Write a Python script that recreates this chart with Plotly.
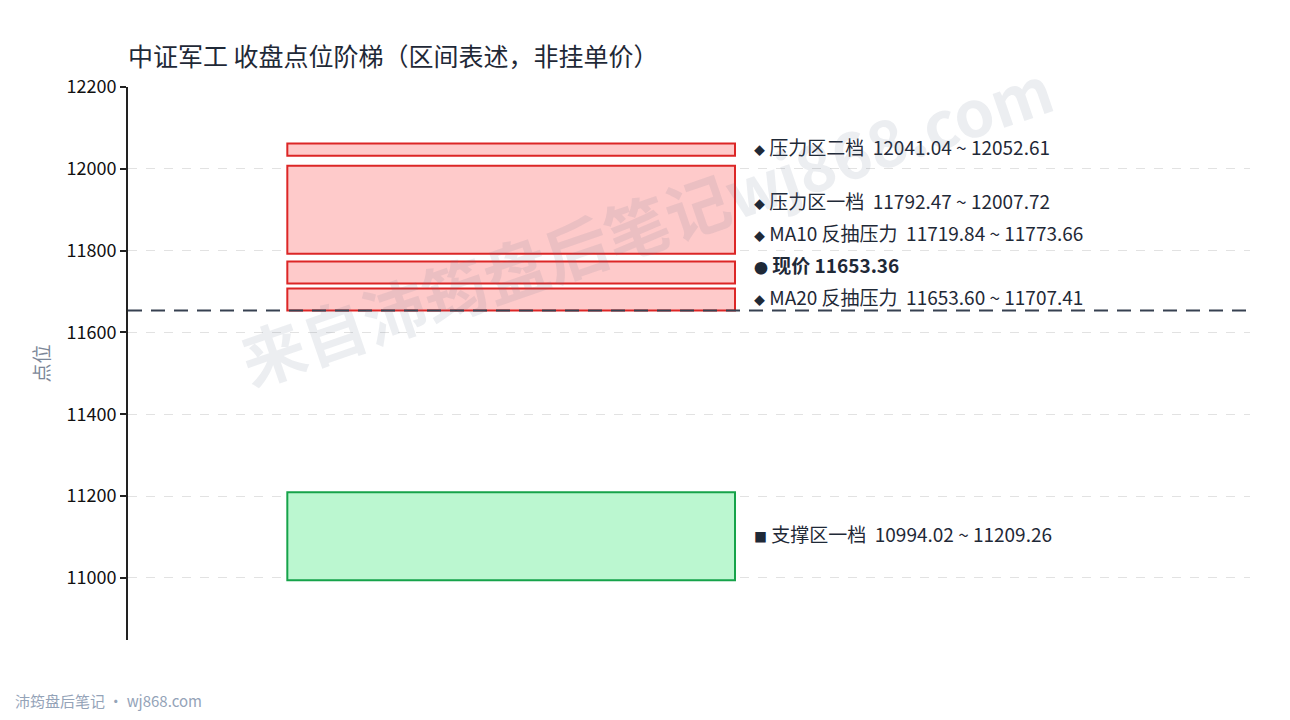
"""
中证军工 收盘点位阶梯（区间表述）
"""
import plotly.graph_objects as go

# 数据
zone_names = ["支撑区一档", "MA20 反抽压力", "MA10 反抽压力", "压力区一档", "压力区二档"]
zone_low = [10994.02, 11653.60, 11719.84, 11792.47, 12041.04]
zone_high = [11209.26, 11707.41, 11773.66, 12007.72, 12052.61]
zone_kind = ["support", "pressure", "pressure", "pressure", "pressure"]
current_price = 11653.36

y_ticks = [11000, 11200, 11400, 11600, 11800, 12000, 12200]
y_range = [10848, 12200]

# 画布参数（页面 body 自带 8px 边距，图形尺寸相应缩小）
PAGE_PAD = 8
W, H = 1290 - 2 * PAGE_PAD, 720 - 2 * PAGE_PAD
M_L, M_R, M_T, M_B = 128 - PAGE_PAD, 40 - PAGE_PAD, 87 - PAGE_PAD, 80 - PAGE_PAD
plot_h = H - M_T - M_B
plot_w = W - M_L - M_R
units_per_px = (y_range[1] - y_range[0]) / plot_h

FONT = "Noto Sans CJK SC, Noto Sans, sans-serif"
TEXT = "#1f2937"
colors = {
    "support": dict(fill="#bbf7d0", line="#16a34a"),
    "pressure": dict(fill="#fecaca", line="#dc2626"),
}

BOX_X0, BOX_X1 = 0.142, 0.541
LABEL_X = 0.556
MIN_BOX = 30  # 区间太窄时最小显示高度（点）
SP = "\u00a0\u00a0"

fig = go.Figure()
fig.add_trace(go.Scatter(x=[0, 1], y=y_range, mode="markers",
                         marker=dict(opacity=0), hoverinfo="skip", showlegend=False))

# 区间方框
for name, lo, hi, kind in zip(zone_names, zone_low, zone_high, zone_kind):
    mid = (lo + hi) / 2
    if hi - lo < MIN_BOX:
        lo, hi = mid - MIN_BOX / 2, mid + MIN_BOX / 2
    fig.add_shape(type="rect", xref="x", yref="y", x0=BOX_X0, x1=BOX_X1, y0=lo, y1=hi,
                  fillcolor=colors[kind]["fill"], line=dict(color=colors[kind]["line"], width=2),
                  layer="above")

# 现价虚线
fig.add_shape(type="line", xref="paper", yref="y", x0=0, x1=1,
              y0=current_price, y1=current_price,
              line=dict(color="#374151", width=2, dash="14px,9px"), layer="above")

# 标签（自下而上，避免重叠）
diamond = "<span style='font-size:11px'>◆</span> "
square = "<span style='font-size:13px'>■</span> "
labels = []
for name, lo, hi, kind in zip(zone_names, zone_low, zone_high, zone_kind):
    mark = square if kind == "support" else diamond
    labels.append(((lo + hi) / 2, f"{mark}{name}{SP}{lo:.2f} ~ {hi:.2f}"))
labels.insert(2, (current_price, f"<span style='font-size:14px'>●</span> <b>现价 {current_price:.2f}</b>"))

gap = 32 * units_per_px
prev = None
for y, text in labels:
    if prev is not None and y < prev + gap:
        y = prev + gap
    prev = y
    fig.add_annotation(x=LABEL_X, y=y, xref="x", yref="y", text=text, showarrow=False,
                       xanchor="left", yanchor="middle", yshift=3,
                       font=dict(size=19, color=TEXT, family=FONT))

# 水印
fig.add_annotation(x=(645 - PAGE_PAD - M_L) / plot_w, y=(H - M_B - (222 - PAGE_PAD)) / plot_h,
                   xref="paper", yref="paper", xanchor="center", yanchor="middle",
                   text="<b>来自沛筠盘后笔记wj868.com</b>", showarrow=False, textangle=-19,
                   font=dict(size=64, color="rgba(100,116,139,0.12)", family=FONT))

# 页脚
fig.add_annotation(x=(13 - PAGE_PAD - M_L) / plot_w, y=(H - M_B - (700 - PAGE_PAD)) / plot_h,
                   xref="paper", yref="paper", xanchor="left", yanchor="middle",
                   text="沛筠盘后笔记 · wj868.com", showarrow=False,
                   font=dict(size=15, color="#94a3b8", family=FONT))

fig.update_layout(
    width=W, height=H,
    margin=dict(l=M_L, r=M_R, t=M_T, b=M_B),
    paper_bgcolor="white", plot_bgcolor="white",
    font=dict(family=FONT, color=TEXT),
    title=dict(text="中证军工 收盘点位阶梯（区间表述，非挂单价）", x=0, xref="paper",
               y=1 - (57 - PAGE_PAD) / H, yref="container", yanchor="middle",
               font=dict(size=25, color=TEXT, family=FONT)),
    showlegend=False,
    xaxis=dict(range=[0, 1], visible=False, fixedrange=True),
    yaxis=dict(range=y_range, tickvals=y_ticks, tickformat="d", showline=True,
               linecolor="#222", linewidth=2,
               ticks="outside", ticklen=6, tickwidth=2, tickcolor="#222",
               tickfont=dict(size=18, color="#111", family=FONT),
               showgrid=True, gridcolor="#e2e2e2", griddash="dash", gridwidth=1, zeroline=False,
               title=dict(text="点位", font=dict(size=19, color="#7c8798", family=FONT), standoff=12)),
)

fig.write_html("out.html")
